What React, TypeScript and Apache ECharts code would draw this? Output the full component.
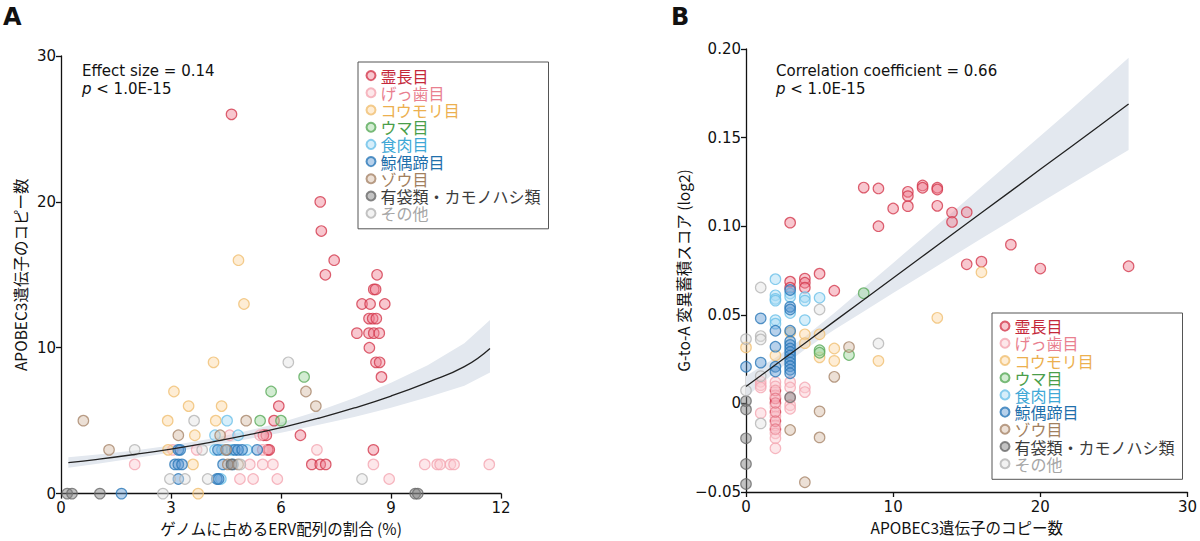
import React, { useEffect, useRef } from "react";
import * as echarts from "echarts";

// ---------- groups ----------
const groupNames = ["霊長目", "げっ歯目", "コウモリ目", "ウマ目", "食肉目", "鯨偶蹄目", "ゾウ目", "有袋類・カモノハシ類", "その他"];

// ---------- Panel A : (ERV %, APOBEC3 copies) ----------
const primatesA = [
  [4.65, 26], [7.07, 20], [7.1, 18], [7.45, 16], [7.21, 15], [8.62, 15], [8.53, 14], [8.58, 14],
  [8.21, 13], [8.43, 13], [8.83, 13], [8.4, 12], [8.5, 12], [8.6, 12],
  [8.07, 11], [8.4, 11], [8.53, 11], [8.68, 11], [8.41, 10], [8.59, 9], [8.69, 9], [8.74, 8],
  [5.94, 6], [5.81, 5], [5.52, 4], [5.6, 4], [6.53, 4], [5.64, 3], [5.68, 3], [8.52, 3],
  [6.84, 2], [7.07, 2], [7.22, 2],
];
const rodentsA = [
  [2.01, 2], [5.15, 2], [5.5, 2], [5.78, 2], [8.52, 2], [9.92, 2], [10.26, 2], [10.34, 2], [10.62, 2], [10.72, 2], [11.68, 2],
  [3.05, 3], [3.7, 3], [5.5, 3], [6.98, 3],
  [4.88, 1], [5.24, 1], [5.9, 1], [8.95, 1],
  [4.6, 4], [5.43, 4],
];
const batsA = [
  [4.84, 16], [4.99, 13], [4.16, 9], [3.08, 7], [3.48, 6], [4.38, 6], [2.91, 5], [4.22, 5],
  [3.65, 4], [3.6, 2], [2.92, 3], [3.74, 0],
];
const horsesA = [[6.63, 8], [5.73, 7], [5.43, 5], [6.0, 5]];
const carnivoraA = [[4.53, 5], [4.2, 4], [4.83, 4], [4.2, 3], [4.39, 3], [4.66, 3], [5.07, 3], [4.36, 1]];
const cetartA = [
  [3.2, 3], [3.25, 3], [4.28, 3], [4.53, 3], [4.74, 3], [4.83, 3], [4.94, 3], [5.35, 3],
  [3.11, 2], [3.2, 2], [3.3, 2], [4.42, 2], [4.69, 2],
  [3.2, 1], [4.25, 1], [4.3, 1], [1.65, 0],
];
const proboscideaA = [[0.61, 5], [1.31, 3], [3.2, 4], [5.05, 5], [6.68, 7], [6.95, 6], [4.34, 4], [4.55, 2], [4.83, 2], [4.5, 3]];
const marsupialsA = [[0.17, 0], [0.3, 0], [1.06, 0], [9.66, 0], [9.73, 0], [4.65, 2]];
const othersA = [[6.2, 9], [3.63, 5], [2.01, 3], [3.85, 3], [2.97, 1], [3.38, 1], [4.0, 1], [8.21, 1], [2.78, 0], [4.89, 2]];

// fitted curve and confidence band in A
const curveAX = [0.2, 1, 2, 3, 4, 5, 6, 7, 8, 9, 10, 11, 11.7];
const curveAFit = [2.12, 2.35, 2.68, 3.05, 3.48, 3.97, 4.52, 5.15, 5.87, 6.69, 7.63, 8.7, 9.95];
const curveAUp = [2.5, 2.68, 2.96, 3.3, 3.72, 4.25, 4.88, 5.65, 6.55, 7.6, 8.8, 10.3, 11.9];
const curveALo = [1.78, 2.04, 2.42, 2.81, 3.25, 3.7, 4.18, 4.7, 5.25, 5.88, 6.6, 7.4, 8.3];

// ---------- Panel B : (APOBEC3 copies, G-to-A score) ----------
const primatesB = [
  [3, 0.102], [8, 0.1218], [9, 0.1213], [9, 0.1], [10, 0.11], [11, 0.1194], [11, 0.117], [11, 0.1113],
  [12, 0.123], [12, 0.1217], [13, 0.1217], [13, 0.1207], [13, 0.1115], [14, 0.1077], [14, 0.1024],
  [15, 0.1079], [18, 0.0896], [15, 0.0785], [16, 0.08], [20, 0.0761], [26, 0.0774],
  [3, 0.0687], [3, 0.0653], [4, 0.0704], [4, 0.0681], [4, 0.0653], [5, 0.0732], [6, 0.0636],
  [2, 0.0073], [2, 0.0028], [2, 0.0002], [2, -0.0049], [2, -0.01], [2, -0.0146],
];
const rodentsB = [
  [1, 0.0122], [1, 0.0103], [1, 0.009], [1, -0.0055],
  [2, 0.012], [2, 0.0096], [2, 0.0045], [2, -0.002], [2, -0.0073], [2, -0.0124], [2, -0.0169], [2, -0.0197], [2, -0.0253],
  [3, 0.012], [3, 0.009], [3, 0.003], [3, -0.001], [3, -0.003],
  [4, 0.009], [4, 0.0064],
];
const batsB = [[0, 0.0316], [13, 0.0483], [16, 0.074], [4, 0.039], [4, 0.034], [5, 0.039], [5, 0.026], [6, 0.031], [6, 0.024], [9, 0.024], [2, 0.027], [3, 0.04]];
const horsesB = [[8, 0.0622], [5, 0.03], [5, 0.0286], [7, 0.0273]];
const carnivoraB = [[2, 0.0701], [2, 0.061], [2, 0.059], [2, 0.058], [3, 0.062], [3, 0.06], [4, 0.06], [4, 0.058], [5, 0.0596], [4, 0.047], [2, 0.047], [2, 0.045], [3, 0.051]];
const cetartB = [
  [1, 0.048], [2, 0.041], [2, 0.032], [1, 0.023], [0, 0.0207], [2, 0.0207], [2, 0.018], [3, 0.064], [3, 0.0545], [3, 0.053],
  [3, 0.041], [3, 0.035], [3, 0.033], [3, 0.031], [3, 0.029], [3, 0.027], [3, 0.025], [3, 0.023], [3, 0.021], [3, 0.019], [3, 0.017],
];
const proboscideaB = [[7, 0.0318], [6, 0.015], [5, -0.0045], [5, -0.0192], [3, -0.015], [4, -0.0445]];
const marsupialsB = [[0, 0.0013], [0, -0.0034], [0, -0.0197], [0, -0.0342], [0, -0.0455], [3, 0.0035]];
const othersB = [[1, 0.0654], [0, 0.0363], [1, 0.038], [1, 0.0361], [5, 0.053], [9, 0.0338], [0, 0.0073], [1, 0.0154], [1, -0.0113]];

// fitted line and band in B
const lineBX = [0, 2, 4, 6, 8, 10, 12, 14, 16, 18, 20, 22, 24, 26];
const lineBFit = [0.0095, 0.0218, 0.034, 0.0463, 0.0585, 0.0708, 0.083, 0.0953, 0.1076, 0.1198, 0.1321, 0.1443, 0.1566, 0.169];
const lineBUp = [0.0155, 0.0258, 0.0376, 0.051, 0.0651, 0.0793, 0.0935, 0.1078, 0.1221, 0.1365, 0.1509, 0.1653, 0.1801, 0.195];
const lineBLo = [0.0035, 0.0178, 0.0304, 0.0416, 0.0519, 0.0623, 0.0725, 0.0828, 0.0931, 0.1031, 0.1133, 0.1233, 0.1331, 0.143];

// ---------- styles ----------
const fills = [
  "rgba(240,128,145,0.55)", "rgba(250,200,208,0.55)", "rgba(252,215,160,0.55)", "rgba(160,215,160,0.6)",
  "rgba(170,220,245,0.6)", "rgba(90,150,210,0.55)", "rgba(215,190,170,0.6)", "rgba(130,130,130,0.6)", "rgba(225,225,225,0.55)",
];
const borders = ["#d33a4e", "#f4a6b2", "#f0bf72", "#5aaa5a", "#6cc0e8", "#2a78b8", "#a8866a", "#6a6a6a", "#b4b4b4"];
const textColors = ["#c4283a", "#e9808f", "#ecb04f", "#4a9e4a", "#40a8d6", "#1f6fab", "#a2805e", "#3c3c3c", "#a6a6a6"];

const FONT = '"DejaVu Sans", "Noto Sans CJK JP", sans-serif';
const CJK = '"Noto Sans CJK JP", "DejaVu Sans", sans-serif';

function band(xs: number[], lo: number[], hi: number[]) {
  return (params: any, api: any) => {
    const pts: number[][] = [];
    for (let i = 0; i < xs.length; i++) pts.push(api.coord([xs[i], hi[i]]));
    for (let i = xs.length - 1; i >= 0; i--) pts.push(api.coord([xs[i], lo[i]]));
    return { type: "polygon", shape: { points: pts }, style: { fill: "#e3e8ef" }, silent: true };
  };
}

export default function App() {
  const ref = useRef<HTMLDivElement>(null);
  useEffect(() => {
    if (!ref.current) return;
    const chart = echarts.init(ref.current, null, { renderer: "svg" });
    const A = [primatesA, rodentsA, batsA, horsesA, carnivoraA, cetartA, proboscideaA, marsupialsA, othersA];
    const B = [primatesB, rodentsB, batsB, horsesB, carnivoraB, cetartB, proboscideaB, marsupialsB, othersB];

    const axisCommon = {
      axisLine: { show: true, onZero: false, lineStyle: { color: "#111", width: 1.3 } },
      axisTick: { show: true, length: 5, lineStyle: { color: "#111", width: 1.3 } },
      axisLabel: { color: "#111", fontSize: 15, fontFamily: FONT },
      splitLine: { show: false },
      nameLocation: "middle" as const,
      nameTextStyle: { color: "#111", fontSize: 15.5, fontFamily: CJK },
    };

    const scatter: any[] = [];
    groupNames.forEach((name, i) => {
      const style = { color: fills[i], borderColor: borders[i], borderWidth: 1.2 };
      scatter.push({ type: "scatter", name, xAxisIndex: 0, yAxisIndex: 0, data: A[i], symbolSize: 10.5, itemStyle: style, z: 3 });
      scatter.push({ type: "scatter", name, xAxisIndex: 1, yAxisIndex: 1, data: B[i], symbolSize: 10.5, itemStyle: style, z: 3 });
    });

    const legendData = groupNames.map((name, i) => ({ name, textStyle: { color: textColors[i] } }));
    const legendCommon = {
      orient: "vertical" as const,
      data: legendData,
      itemWidth: 9,
      itemHeight: 9,
      itemGap: 0,
      selectedMode: false,
      borderColor: "#555",
      borderWidth: 1,
      textStyle: { fontSize: 16, lineHeight: 17.2, fontFamily: CJK },
    };

    const pText = (x: number, y: number, first: string) => ({
      type: "text",
      left: x,
      top: y,
      style: {
        text: first + "\n{i|p} < 1.0E-15",
        fontSize: 15,
        lineHeight: 18,
        fontFamily: FONT,
        fill: "#111",
        rich: { i: { fontStyle: "italic", fontSize: 15, fontFamily: FONT, fill: "#111" } },
      },
    });

    chart.setOption({
      animation: false,
      backgroundColor: "#fff",
      grid: [
        { left: 61, top: 56, width: 440, height: 438 },
        { left: 746, top: 49, width: 444, height: 443 },
      ],
      xAxis: [
        { ...axisCommon, type: "value", gridIndex: 0, min: 0, max: 12, interval: 3, name: "ゲノムに占めるERV配列の割合 (%)", nameGap: 25, axisLabel: { ...axisCommon.axisLabel, margin: 7 } },
        { ...axisCommon, type: "value", gridIndex: 1, min: 0, max: 30, interval: 10, name: "APOBEC3遺伝子のコピー数", nameGap: 25, axisLabel: { ...axisCommon.axisLabel, margin: 7 } },
      ],
      yAxis: [
        { ...axisCommon, type: "value", gridIndex: 0, min: 0, max: 30, interval: 10, name: "APOBEC3遺伝子のコピー数", nameGap: 33, axisLabel: { ...axisCommon.axisLabel, margin: 5 } },
        {
          ...axisCommon, type: "value", gridIndex: 1, min: -0.05, max: 0.2, interval: 0.05, name: "G-to-A 変異蓄積スコア (log2)", nameGap: 52,
          axisLabel: {
            ...axisCommon.axisLabel, margin: 5,
            formatter: (v: number) => (Math.abs(v) < 1e-9 ? "0" : (v < 0 ? "\u2212" : "") + Math.abs(v).toFixed(2)),
          },
        },
      ],
      legend: [
        { ...legendCommon, left: 358, top: 62, padding: [5, 8, 7, 7.5] },
        { ...legendCommon, left: 992, top: 313, padding: [4.5, 8, 7, 7.5] },
      ],
      graphic: [
        { type: "text", left: 3, top: 5, style: { text: "A", fontSize: 24, fontWeight: "bold", fontFamily: FONT, fill: "#111" } },
        { type: "text", left: 671, top: 5, style: { text: "B", fontSize: 24, fontWeight: "bold", fontFamily: FONT, fill: "#111" } },
        pText(82, 62, "Effect size = 0.14"),
        pText(776, 62, "Correlation coefficient = 0.66"),
      ],
      series: [
        { type: "custom", xAxisIndex: 0, yAxisIndex: 0, data: [[1, 1]], renderItem: band(curveAX, curveALo, curveAUp), z: 1, silent: true },
        { type: "custom", xAxisIndex: 1, yAxisIndex: 1, data: [[1, 0]], renderItem: band(lineBX, lineBLo, lineBUp), z: 1, silent: true },
        ...scatter,
        {
          type: "line", xAxisIndex: 0, yAxisIndex: 0, data: curveAX.map((x, i) => [x, curveAFit[i]]), smooth: true,
          symbol: "none", lineStyle: { color: "#222", width: 1.3 }, z: 5, silent: true,
        },
        {
          type: "line", xAxisIndex: 1, yAxisIndex: 1, data: lineBX.map((x, i) => [x, lineBFit[i]]),
          symbol: "none", lineStyle: { color: "#222", width: 1.3 }, z: 5, silent: true,
        },
      ],
    });
    return () => chart.dispose();
  }, []);
  return <div ref={ref} style={{ position: "absolute", left: 0, top: 0, width: 1200, height: 541 }} />;
}
